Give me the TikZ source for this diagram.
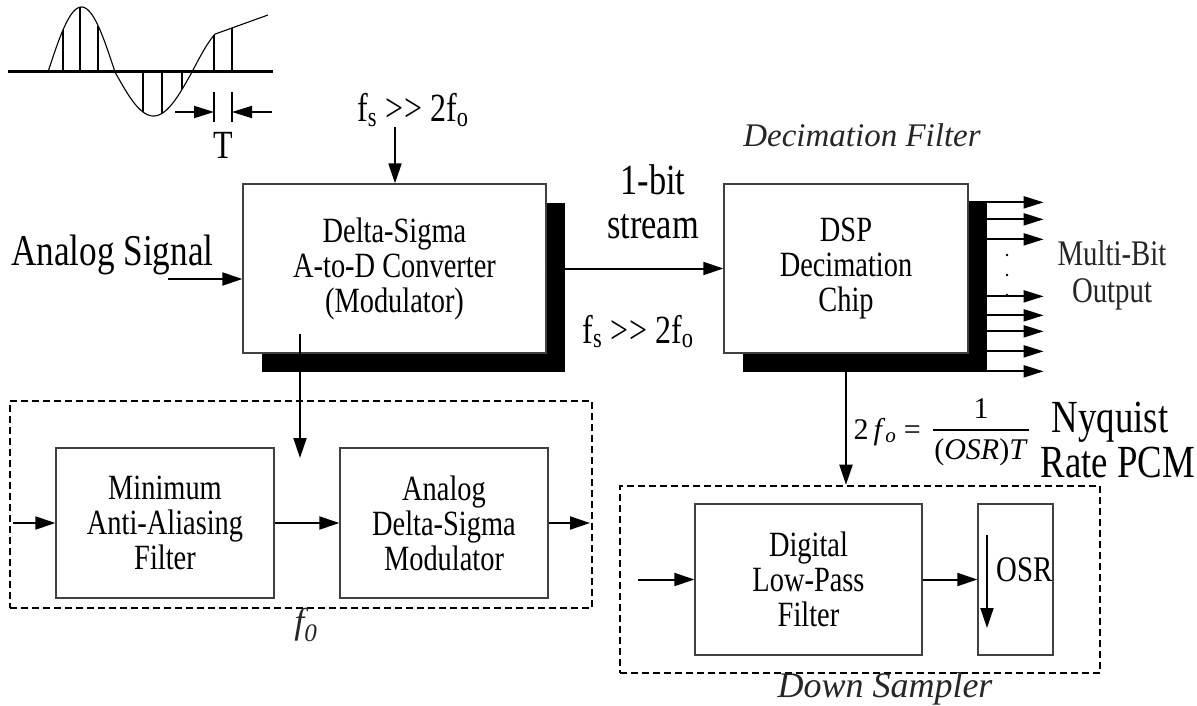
\documentclass[tikz,border=0pt]{standalone}
\usepackage{fontspec}
\setmainfont{Liberation Serif}[FakeStretch=0.8]
\newfontfamily\plainserif{Liberation Serif}
\usetikzlibrary{arrows.meta,shadows}
\newcommand{\fsz}[2]{\fontsize{#1}{#2}\selectfont}
\begin{document}
\begin{tikzpicture}[x=1pt,y=-1pt,
  arr/.style={line width=2pt,-{Triangle[length=20pt,width=13pt]}},
  arrs/.style={line width=1.8pt,-{Triangle[length=20pt,width=12pt]}},
  box/.style={draw=black!75,line width=1.3pt,fill=white,inner sep=0pt,align=center,font=\fsz{35.5}{35}},
  shbox/.style={box,drop shadow={shadow xshift=19pt,shadow yshift=-19pt,fill=black,opacity=1}},
  dbox/.style={draw,line width=2.6pt,dash pattern=on 7pt off 4pt,inner sep=0pt},
  lbl/.style={inner sep=0pt,anchor=base},
  samp/.style={line width=1.4pt},
  ital/.style={font=\plainserif\itshape\fsz{33}{36},text=black!85}]
\useasboundingbox (0,0) rectangle (1197,706);

% ---------- waveform ----------
\draw[line width=3pt] (8,72) -- (273,72);
\draw[line width=1.1pt] plot[domain=48:115,samples=50] (\x,{72-65*sin(180*(\x-48)/67)});
\draw[line width=1.1pt] plot[domain=115:192,samples=50] (\x,{72+44*sin(180*(\x-115)/77)});
\draw[line width=1.1pt] plot[domain=192:215,samples=20] (\x,{72-47*sin(180*(\x-192)/77)}) -- (268,15);
\foreach \x in {63,80,98} \draw[samp] (\x,72) -- (\x,{72-65*sin(180*(\x-48)/67)});
\foreach \x in {143,162,182} \draw[samp] (\x,72) -- (\x,{72+44*sin(180*(\x-115)/77)});
\draw[samp] (214,72) -- (214,{72-47*sin(180*22/77)});
\draw[samp] (232,72) -- (232,28);
\draw[samp] (214,92) -- (214,122);
\draw[samp] (232,92) -- (232,122);
\coordinate (tl) at (175,112); \coordinate (tla) at (214,112);
\coordinate (tr) at (272,112); \coordinate (tra) at (232,112);
\draw[arrs] (tl) -- (tla);
\draw[arrs] (tr) -- (tra);
\node[lbl,font=\fsz{40}{44}] (tlabel) at (223,158) {T};

% ---------- dashed groups ----------
\node[dbox,minimum width=582pt,minimum height=207pt] (dl) at (301,504.5) {};
\node[dbox,minimum width=480pt,minimum height=187pt] (dr) at (860,579.5) {};

% ---------- main boxes ----------
\node[shbox,minimum width=303pt,minimum height=169pt] (b1) at (394.5,268.5) {Delta-Sigma\\A-to-D Converter\\(Modulator)};
\node[shbox,minimum width=244pt,minimum height=169pt] (dsp) at (846,268.5) {DSP\\Decimation\\Chip};

\node[box,minimum width=218pt,minimum height=150pt] (aaf) at (165,523) {Minimum\\Anti-Aliasing\\Filter};
\node[box,minimum width=208pt,minimum height=150pt] (adsm) at (444,523) {Analog\\Delta-Sigma\\Modulator};
\node[box,minimum width=227pt,minimum height=151pt] (lpf) at (808.5,579.5) {Digital\\Low-Pass\\Filter};
\node[box,minimum width=75pt,minimum height=151pt] (osr) at (1015.5,579.5) {};
\node[lbl,anchor=base west,font=\fsz{36}{38}] (osrt) at (996,581) {OSR};

% ---------- labels ----------
\node[lbl,anchor=base west,font=\fsz{44}{48}] (als) at (11,265) {Analog Signal};
\node[lbl,font=\fsz{40}{44}] (fs1) at (413,122) {f\textsubscript{s} >\kern1pt> 2f\textsubscript{o}};
\node[lbl,font=\fsz{40}{44}] (fs2) at (638,343) {f\textsubscript{s} >\kern1pt> 2f\textsubscript{o}};
\node[lbl,font=\fsz{43}{46}] (bit1) at (653,194) {1-bit};
\node[lbl,font=\fsz{43}{46}] (bit2) at (653,238) {stream};
\node[lbl,ital] (decf) at (862,147) {Decimation Filter};
\node[lbl,ital,font=\plainserif\itshape\fsz{36}{40}] (downs) at (885,697) {Down Sampler};
\node[lbl,ital,font=\plainserif\itshape\fsz{36}{40}] (fzero) at (306,633) {f\textsubscript{0}};
\node[lbl,font=\fsz{36}{40},text=black!85] (mb1) at (1112,265) {Multi-Bit};
\node[lbl,font=\fsz{36}{40},text=black!85] (mb2) at (1112,302) {Output};
\node[lbl,font=\fsz{46}{48}] (nyq1) at (1110,432) {Nyquist};
\node[lbl,font=\fsz{46}{48}] (nyq2) at (1118,477) {Rate PCM};

% formula
\node[lbl,anchor=base east,font=\plainserif\fsz{30}{32}] (feq) at (921,439) {2\,\textit{f}\textsubscript{\textit{o}} =};
\node[lbl,font=\plainserif\fsz{30}{32}] (fnum) at (981,418) {1};
\node[lbl,font=\plainserif\fsz{30}{32}] (fden) at (981,459) {(\textit{OSR})\textit{T}};
\coordinate (fb1) at (933,430); \coordinate (fb2) at (1029,430);
\draw[line width=1.2pt] (fb1) -- (fb2);

% ---------- connectors ----------
\coordinate (ain) at (168,279);
\draw[arr] (ain) -- (ain -| b1.west);
\coordinate (fstop) at (395,127);
\draw[arr] (fstop) -- (fstop |- b1.north);
\draw[arr] (b1.east) -- (dsp.west);
\coordinate (bsrc) at (300,334); \coordinate (btip) at (300,458);
\draw[arr] (bsrc) -- (btip);
\draw[arr] (dsp.south) -- (dsp.south |- dr.north);

\foreach \dy in {19,36,56,113,132,148,168,188}
  \draw[arrs] ([yshift=-\dy]dsp.north east) -- ++(75,0);
\foreach \yy in {255,275,295} \fill (1007,\yy) circle (1.3pt);

\coordinate (lin) at (13,523); \coordinate (lout) at (590,523);
\draw[arr] (lin) -- (aaf.west);
\draw[arr] (aaf.east) -- (adsm.west);
\draw[arr] (adsm.east) -- (lout);

\coordinate (rin) at (638,579.5);
\draw[arr] (rin) -- (lpf.west);
\draw[arr] (lpf.east) -- (osr.west);
\coordinate (od1) at (987,535); \coordinate (od2) at (987,628);
\draw[arr] (od1) -- (od2);
\end{tikzpicture}
\end{document}
